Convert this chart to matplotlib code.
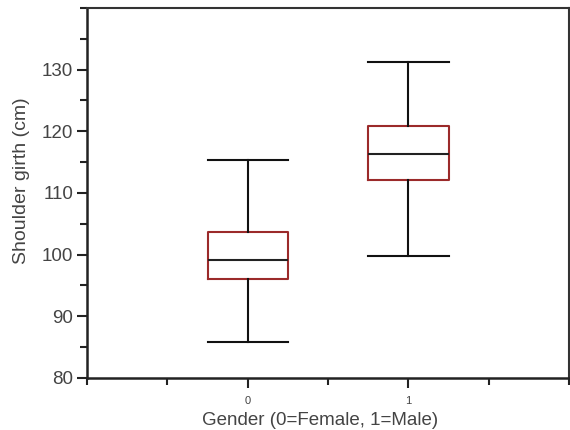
import matplotlib
matplotlib.use("Agg")
import matplotlib.pyplot as plt
from matplotlib.ticker import MultipleLocator

plt.rcParams["font.family"] = ["Liberation Sans", "DejaVu Sans"]

# box statistics
groups = ["0", "1"]
positions = [0, 1]
whislo = [85.8, 99.8]
q1 = [96.0, 112.1]
med = [99.2, 116.3]
q3 = [103.7, 120.8]
whishi = [115.3, 131.3]

stats = []
for i, g in enumerate(groups):
    stats.append({
        "label": g,
        "whislo": whislo[i],
        "q1": q1[i],
        "med": med[i],
        "q3": q3[i],
        "whishi": whishi[i],
        "fliers": [],
    })

fig = plt.figure(figsize=(5.7, 4.3), dpi=100)
ax = fig.add_axes([87 / 570, 1 - 378 / 430, 482 / 570, 370 / 430])

box_col = "#9b2a2a"
ax.bxp(
    stats,
    positions=positions,
    widths=0.5,
    showfliers=False,
    boxprops=dict(color=box_col, linewidth=1.5),
    medianprops=dict(color="#222222", linewidth=1.5),
    whiskerprops=dict(color="#111111", linewidth=1.5),
    capprops=dict(color="#111111", linewidth=1.5),
    capwidths=0.5,
)

ax.set_xlim(-1, 2)
ax.set_ylim(80, 140)
ax.set_xticks(positions)
ax.set_xticklabels(groups)
ax.xaxis.set_minor_locator(MultipleLocator(0.5))
ax.set_yticks([80, 90, 100, 110, 120, 130])
ax.yaxis.set_minor_locator(MultipleLocator(5))

ax.tick_params(axis="both", which="major", length=7, width=1.5, direction="out", color="#222222")
ax.tick_params(axis="both", which="minor", length=5, width=1.5, direction="out", color="#222222")
ax.tick_params(axis="y", labelsize=13.5, labelcolor="#444444", pad=3)
ax.tick_params(axis="x", labelsize=8, labelcolor="#444444", pad=6)

for s in ["left", "bottom"]:
    ax.spines[s].set_linewidth(1.8)
    ax.spines[s].set_color("#222222")
for s in ["top", "right"]:
    ax.spines[s].set_linewidth(1.5)
    ax.spines[s].set_color("#333333")

ax.set_xlabel("Gender (0=Female, 1=Male)", fontsize=13.5, color="#444444")
ax.set_ylabel("Shoulder girth (cm)", fontsize=14, color="#444444")
ax.xaxis.set_label_coords(0.483, -0.093)
ax.yaxis.set_label_coords(-0.118, 0.532)

fig.savefig("out.png", dpi=100)
plt.close(fig)
